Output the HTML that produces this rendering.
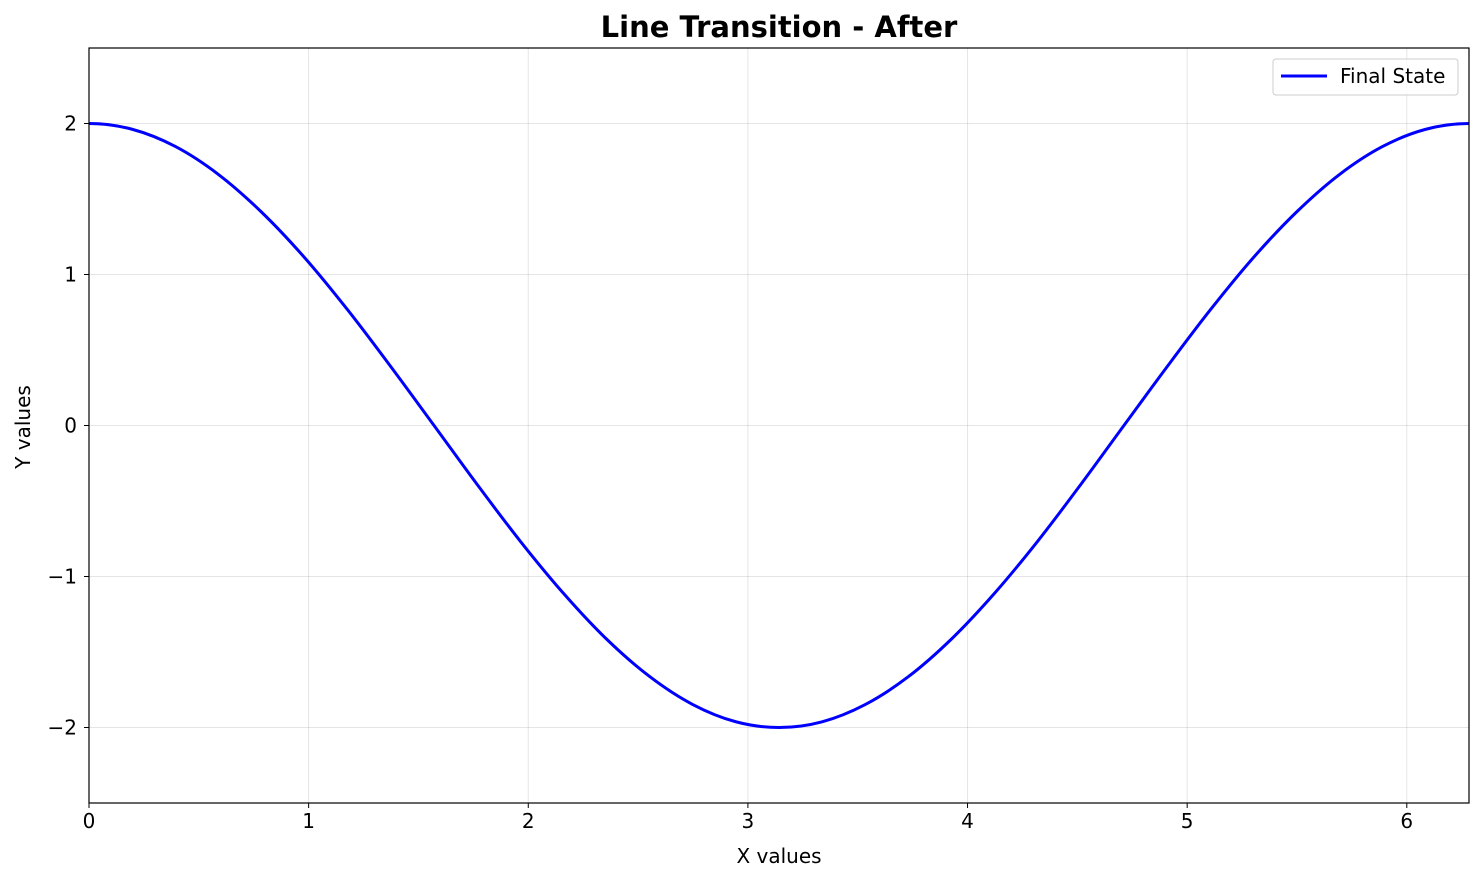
<!DOCTYPE html>
<html><head><meta charset="utf-8"><style>
html,body{margin:0;padding:0;background:#fff;}
svg{display:block;font-family:"DejaVu Sans","Liberation Sans",sans-serif;}
</style></head><body>
<svg id="chart" width="1484" height="882" viewBox="0 0 1484 882">
<g id="grid"></g>
<g id="ticks"></g>
<path id="line" fill="none" stroke="#0000ff" stroke-width="3"/>
<rect x="89" y="48" width="1380" height="755" fill="none" stroke="#000" stroke-width="1.2"/>
<text x="779" y="37" text-anchor="middle" font-size="29" font-weight="bold">Line Transition - After</text>
<text x="779" y="863" text-anchor="middle" font-size="20">X values</text>
<text transform="translate(30,427) rotate(-90)" text-anchor="middle" font-size="20">Y values</text>
<g>
<rect x="1273" y="59" width="185" height="36" rx="3" fill="#fff" fill-opacity="0.8" stroke="#ccc"/>
<line x1="1281" y1="76" x2="1327" y2="76" stroke="#0000ff" stroke-width="3"/>
<text x="1340" y="83" font-size="20">Final State</text>
</g>
</svg>
<script>
const xValues = [0,0.196,0.393,0.589,0.785,0.982,1.178,1.374,1.571,1.767,1.963,2.160,2.356,2.553,2.749,2.945,3.142,3.338,3.534,3.731,3.927,4.123,4.320,4.516,4.712,4.909,5.105,5.301,5.498,5.694,5.890,6.087,6.283];
const yValues = [2,1.962,1.848,1.663,1.414,1.111,0.765,0.390,0,-0.390,-0.765,-1.111,-1.414,-1.663,-1.848,-1.962,-2,-1.962,-1.848,-1.663,-1.414,-1.111,-0.765,-0.390,0,0.390,0.765,1.111,1.414,1.663,1.848,1.962,2];
const xTicks = [0,1,2,3,4,5,6];
const yTicks = [-2,-1,0,1,2];
const yTickLabels = ["\u22122","\u22121","0","1","2"];

const L=89,R=1469,T=48,B=803,xMin=0,xMax=6.2832,yMin=-2.5,yMax=2.5;
const sx=v=>L+(v-xMin)/(xMax-xMin)*(R-L);
const sy=v=>B-(v-yMin)/(yMax-yMin)*(B-T);
const NS="http://www.w3.org/2000/svg";
const grid=document.getElementById('grid'),ticks=document.getElementById('ticks');
function mk(tag,attrs,parent){const e=document.createElementNS(NS,tag);for(const k in attrs)e.setAttribute(k,attrs[k]);parent.appendChild(e);return e;}
xTicks.forEach(t=>{
  const x=sx(t);
  const g=mk('line',{x1:x,x2:x,y1:T,y2:B,stroke:'#000','stroke-opacity':0.1,'stroke-width':1},grid);
  
  
  const tk=mk('line',{x1:x,x2:x,y1:B,y2:B+5,stroke:'#000'},ticks);
  
  
  const tx=mk('text',{x:x,y:B+25,'text-anchor':'middle','font-size':20},ticks);
  tx.textContent=String(t);
  
  
});
yTicks.forEach((t,i)=>{
  const y=sy(t);
  const g=mk('line',{x1:L,x2:R,y1:y,y2:y,stroke:'#000','stroke-opacity':0.1,'stroke-width':1},grid);
  
  
  const tk=mk('line',{x1:L-5,x2:L,y1:y,y2:y,stroke:'#000'},ticks);
  
  
  const tx=mk('text',{x:L-12,y:y+7,'text-anchor':'end','font-size':20},ticks);
  tx.textContent=yTickLabels[i];
  
  
});
const P=xValues.map((x,i)=>[sx(x),sy(yValues[i])]);
const n=P.length;
const first=[2*P[0][0]-P[1][0],P[1][1]];
const last=[2*P[n-1][0]-P[n-2][0],P[n-2][1]];
let d=`M${P[0][0]},${P[0][1]}`;
for(let i=0;i<n-1;i++){
  const p0=i===0?first:P[i-1],p1=P[i],p2=P[i+1],p3=i+2<n?P[i+2]:last;
  const c1=[p1[0]+(p2[0]-p0[0])/6,p1[1]+(p2[1]-p0[1])/6];
  const c2=[p2[0]-(p3[0]-p1[0])/6,p2[1]-(p3[1]-p1[1])/6];
  d+=` C${c1[0]},${c1[1]} ${c2[0]},${c2[1]} ${p2[0]},${p2[1]}`;
}
document.getElementById('line').setAttribute('d',d);
</script>
</body></html>
